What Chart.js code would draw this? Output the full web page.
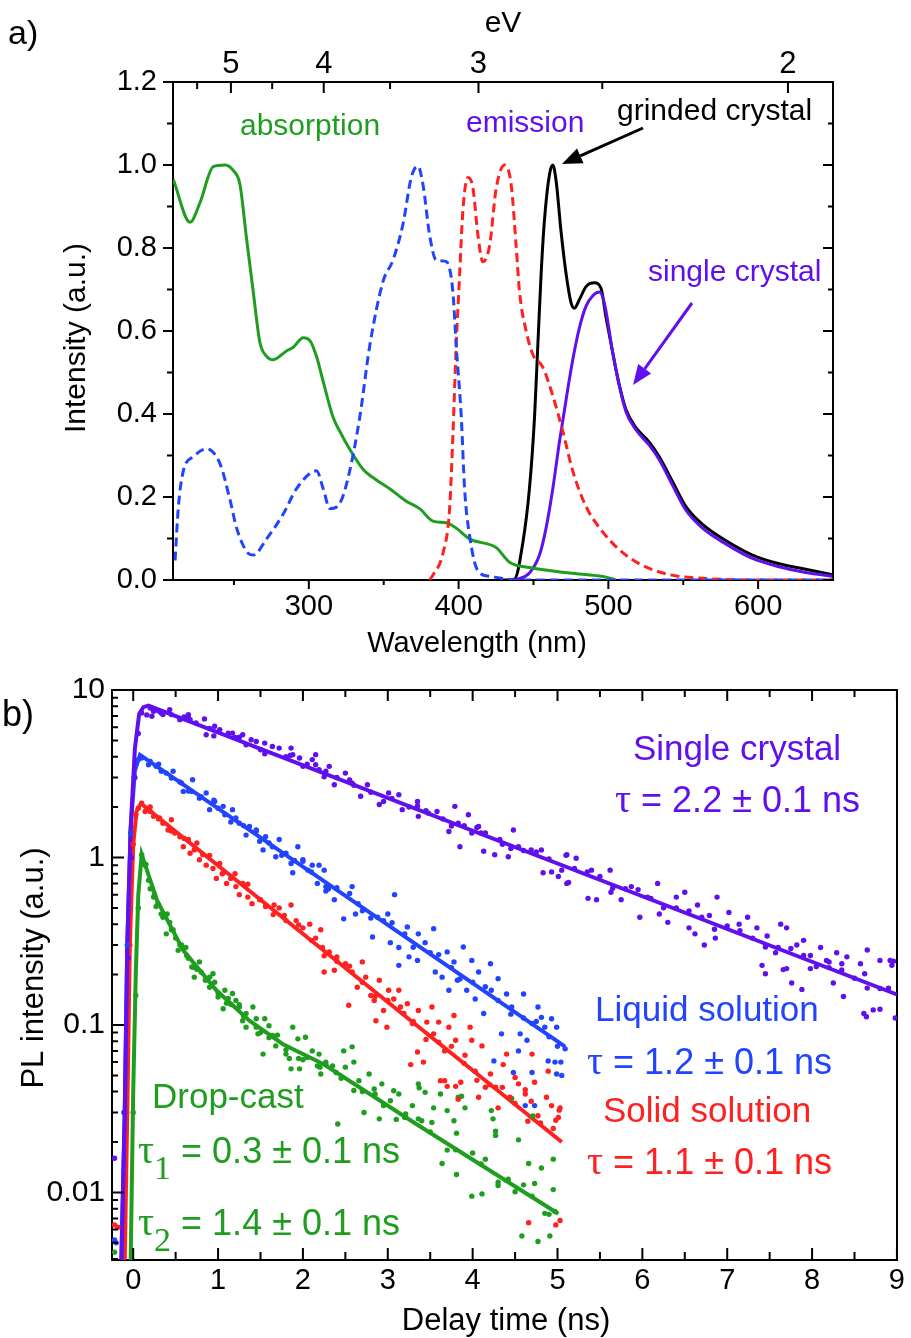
<!DOCTYPE html>
<html>
<head>
<title>Spectra and PL decay</title>
<script src="https://cdn.jsdelivr.net/npm/chart.js"></script>
<style>
body{margin:0;background:#fff;}
#wrap{position:relative;width:911px;height:1338px;}
canvas{position:absolute;left:0;}
</style>
</head>
<body>
<div id="wrap">
<canvas id="specChart" width="911" height="660" style="top:0"></canvas>
<canvas id="decayChart" width="911" height="678" style="top:660px"></canvas>
</div>
<script>
const SANS='"Liberation Sans", Arial, sans-serif';
const SERIF='"Liberation Serif", "Times New Roman", serif';
const GREEN='#1f9d1f', PURPLE='#6010ee', BLUE='#2244ff', RED='#ff2020';

// ---- panel a: spectra (wavelength nm, normalised intensity)
const absWl =[209.5,220.7,227.3,236.2,244,249.5,254,258.4,262.9,267.3,271.8,276.2,285.1,289.6,296.2,300.7,305.1,309.6,316.2,320.7,327.3,336.2,345.1,354,365.1,374,382.9,391.8,398.4,407.3,425.1,434,447.3,474,498.4,505];
const absVal=[0.965,0.862,0.909,0.996,1.0,0.987,0.953,0.823,0.694,0.573,0.539,0.531,0.552,0.561,0.584,0.577,0.539,0.478,0.392,0.358,0.315,0.267,0.241,0.220,0.190,0.172,0.142,0.138,0.125,0.099,0.078,0.043,0.030,0.017,0.0069,0];

const excWl =[210.7,212.9,216.2,222.9,231.8,240.7,247.3,251.8,258.4,262.9,271.8,282.9,291.8,305.1,309.6,314,320.7,327.3,334,340.7,349.6,356.2,362.9,368.4,372.9,376.2,380.7,385,391.8,396.2,398.4,401.8,404,407.3,412.9,420.7,440,650];
const excVal=[0.047,0.177,0.263,0.297,0.316,0.280,0.194,0.125,0.069,0.060,0.099,0.159,0.220,0.263,0.220,0.172,0.185,0.263,0.392,0.565,0.720,0.771,0.858,0.970,0.997,0.953,0.830,0.771,0.767,0.694,0.565,0.392,0.220,0.108,0.022,0.009,0,0];

const solWl =[380.7,382.9,389.6,394,396.2,398.4,400.7,402.9,406.2,409.6,412.9,416.2,420.7,425.1,430.7,435.1,438.4,440.7,445.1,449.6,456.2,462.9,469.6,476.2,485.1,496.2,507.3,520.7,540.7,562.9,600,650];
const solVal=[0,0.012,0.065,0.172,0.349,0.565,0.737,0.892,0.970,0.944,0.831,0.767,0.806,0.944,1.0,0.953,0.806,0.694,0.600,0.543,0.513,0.444,0.358,0.263,0.177,0.116,0.073,0.039,0.013,0.004,0,0];

const grWl =[429.6,437.3,442.9,447.3,450.7,452.9,455.1,457.3,460.7,462.9,465.1,468.4,471.8,475.1,477.3,480.7,485.1,490.7,495.1,498.4,502.9,507.3,511.8,518.4,527.3,534,542.9,551.8,562.9,578.4,596.2,614,631.8,649.6];
const grVal=[0,0.002,0.090,0.220,0.392,0.565,0.737,0.866,0.978,1.0,0.962,0.840,0.737,0.668,0.655,0.676,0.707,0.716,0.703,0.634,0.548,0.470,0.410,0.367,0.332,0.297,0.237,0.177,0.134,0.095,0.060,0.039,0.026,0.013];

const scWl =[438.4,447.3,454,458.4,462.9,467.3,471.8,476.2,480.7,485.1,489.6,494,497.3,502.9,507.3,511.8,518.4,527.3,534,542.9,551.8,562.9,578.4,596.2,614,631.8,649.6];
const scVal=[0,0.017,0.060,0.125,0.220,0.332,0.435,0.530,0.608,0.660,0.685,0.694,0.668,0.548,0.468,0.405,0.362,0.325,0.290,0.228,0.168,0.125,0.087,0.052,0.032,0.018,0.009];

const wlTicks=[250,300,350,400,450,500,550,600];
const evTicks=[5.5,5,4.5,4,3.5,3,2.5,2];
const intTicks=[0,0.1,0.2,0.3,0.4,0.5,0.6,0.7,0.8,0.9,1.0,1.1,1.2];

// ---- panel b: PL decay (delay ns, PL intensity)
const crystalDots=[[0.16,7.1],[0.2,7.8],[0.22,6.97],[0.24,7.47],[0.33,7.3],[0.43,7.64],[0.45,7.13],[0.55,6.65],[0.65,7.13],[0.67,6.65],[0.74,6.35],[0.84,6.72],[0.86,5.41],[0.96,6.07],[1.02,5.8],[1.12,5.53],[1.17,5.53],[1.29,5.41],[1.33,4.71],[1.39,5.05],[1.45,4.93],[1.55,4.82],[1.64,4.6],[1.72,4.5],[1.86,4.5],[1.88,4.11],[1.96,3.93],[2.0,3.5],[2.11,3.84],[2.15,4.11],[2.15,3.58],[2.27,3.27],
[2.19,3.34],[2.31,3.5],[2.37,2.72],[2.5,3.19],[2.58,2.78],[2.68,2.32],[2.76,2.72],[2.9,2.07],[3.01,2.43],[3.13,2.37],[3.17,1.93],[3.35,2.16],[3.36,1.76],[3.48,1.84],[3.58,1.88],[3.72,1.43],[3.79,2.02],[3.83,1.6],[3.85,1.16],[3.95,1.8],[3.99,1.4],[4.07,1.53],[4.13,1.09],[4.15,1.4],[4.26,1.04],[4.32,1.28],[4.42,1.01],[4.48,1.46],[4.54,1.16],[4.69,1.11],[4.81,1.11],[4.83,0.81],[4.93,0.82],[5.01,0.77],[5.11,1.04],[5.11,0.70],
[5.1,1.03],[5.13,0.71],[5.22,0.99],[5.36,0.57],[5.4,0.84],[5.46,0.56],[5.62,0.84],[5.63,0.62],[5.75,0.56],[5.87,0.67],[5.97,0.44],[6.06,0.58],[6.18,0.70],[6.2,0.46],[6.3,0.41],[6.4,0.58],[6.5,0.62],[6.55,0.38],[6.62,0.35],[6.65,0.52],[6.73,0.30],[6.79,0.45],[6.86,0.33],[6.88,0.58],[7.02,0.47],[7.14,0.40],[7.24,0.44],[7.35,0.38],[7.41,0.227],[7.45,0.202],[7.47,0.34],[7.57,0.27],[7.63,0.40],[7.66,0.214],[7.7,0.38],[7.7,0.217],[7.76,0.178],[7.82,0.30],[7.88,0.163],[7.9,0.32],[7.98,0.26],[7.98,0.217],[8.1,0.29],[8.17,0.243],[8.2,0.238],[8.25,0.178],[8.29,0.27],[8.35,0.232],[8.37,0.148],[8.41,0.255],[8.57,0.232],[8.61,0.117],[8.62,0.202],[8.64,0.112],[8.65,0.28],[8.72,0.123],[8.8,0.243],[8.8,0.124],[8.92,0.243],[8.94,0.227],[8.96,0.24],[8.98,0.11],
[0.3,7.5],[0.6,6.9],[0.9,5.9],[1.2,5.2],[1.5,4.4],[1.8,4.0],[2.05,3.6],[2.4,3.0],[2.6,2.7],[2.8,2.45],[3.05,2.25],[3.25,2.0],[3.45,1.9],[3.65,1.7],[3.9,1.55],[4.1,1.4],[4.35,1.2],[4.6,1.1],[4.9,0.98],[5.2,0.86],[5.5,0.77],[5.8,0.65],[6.1,0.57],[6.4,0.50],[6.7,0.44],[7.0,0.39],[7.3,0.33],[7.6,0.29],[7.9,0.26],[8.2,0.22],[8.5,0.19],[8.8,0.165],
[0.35,7.14],[0.65,6.84],[0.95,5.32],[1.25,5.22],[1.55,4.16],[1.85,4.07],[2.25,3.03],[2.55,2.9],[2.95,2.16],[3.35,2.03],[3.75,1.54],[4.05,1.51],[4.45,1.13],[4.75,1.08],[5.05,0.84],[5.35,0.82],[5.65,0.656],[5.95,0.643],[6.25,0.501],[6.55,0.48],[6.85,0.373],[7.15,0.366],[7.45,0.292],[7.75,0.286],[8.05,0.223],[8.35,0.213],[8.65,0.166],[8.9,0.166],
[-0.22,0.016],[-0.1,0.03],[-0.06,0.25],[-0.02,1.0],[0.02,3.0],[0.06,5.5],[0.1,7.3]];

const liquidDots=[[0.06,3.84],[0.1,3.93],[0.18,3.58],[0.27,3.5],[0.33,3.27],[0.39,3.19],[0.47,3.27],[0.45,2.98],[0.57,2.78],[0.59,2.48],[0.70,2.91],[0.69,2.48],[0.78,2.26],[0.86,2.43],[0.9,1.93],[0.96,2.16],[1.06,2.02],[1.08,1.8],[1.17,1.93],[1.21,1.72],[1.25,1.6],[1.33,1.36],[1.37,1.53],[1.45,1.46],[1.49,1.25],[1.56,1.33],[1.53,1.11],[1.64,1.16],[1.68,1.01],[1.72,1.28],[1.8,1.06],[1.86,0.92],[1.88,0.81],[1.94,1.16],[2.0,0.97],[2.06,0.84],[2.11,0.90],[2.17,0.70],[2.19,0.90],[2.25,0.84],[2.27,0.63],
[2.27,0.67],[2.37,0.56],[2.48,0.43],[2.58,0.67],[2.62,0.46],[2.7,0.48],[2.82,0.335],[2.88,0.44],[3.0,0.46],[3.03,0.31],[3.08,0.60],[3.13,0.29],[3.13,0.227],[3.23,0.385],[3.25,0.255],[3.35,0.243],[3.36,0.35],[3.44,0.31],[3.54,0.376],[3.56,0.207],[3.64,0.193],[3.7,0.273],[3.72,0.161],[3.78,0.238],[3.82,0.185],[3.89,0.292],[3.93,0.161],[3.99,0.243],[4.03,0.143],[4.07,0.207],[4.13,0.117],[4.21,0.232],[4.22,0.161],[4.3,0.189],[4.34,0.0885],[4.4,0.153],[4.46,0.128],[4.56,0.0885],[4.6,0.153],[4.64,0.081],[4.7,0.102],[4.77,0.128],[4.81,0.111],[4.85,0.097],[4.93,0.109],[4.99,0.097],[4.89,0.061],[4.97,0.060],[4.99,0.051],[5.09,0.072],[4.54,0.070],[4.7,0.052],[4.48,0.052],[4.25,0.061],[4.73,0.033],[4.62,0.033],[5.04,0.06],[5.05,0.05],
[0.2,3.74],[0.55,2.82],[0.8,2.31],[1.0,1.97],[1.3,1.55],[1.6,1.22],[1.9,0.96],[2.1,0.82],[2.4,0.66],[2.65,0.53],[2.95,0.42],[3.2,0.35],[3.5,0.27],[3.75,0.22],[4.0,0.18],[4.3,0.14],[4.6,0.11],[4.9,0.085],
[0.3,3.61],[0.65,2.49],[0.95,2.2],[1.15,1.63],[1.45,1.44],[1.75,1.03],[2.0,0.95],[2.3,0.649],[2.55,0.61],[2.8,0.435],[3.05,0.408],[3.3,0.291],[3.6,0.263],[3.85,0.188],[4.15,0.169],[4.45,0.116],[4.75,0.105],[5.0,0.0746],
[-0.22,0.0052],[-0.2,0.005],[-0.11,0.03],[-0.07,0.3],[-0.03,1.4],[0.01,3.0]];

const solidDots=[[0.06,1.97],[0.1,2.11],[0.14,1.88],[0.2,1.88],[0.24,1.76],[0.31,1.72],[0.35,1.6],[0.41,1.46],[0.45,1.68],[0.49,1.4],[0.55,1.33],[0.59,1.16],[0.65,1.28],[0.67,1.06],[0.72,1.11],[0.78,0.97],[0.82,1.04],[0.86,0.90],[0.94,0.86],[0.98,0.75],[1.02,0.92],[1.06,0.81],[1.1,0.70],[1.15,0.75],[1.21,0.67],[1.25,0.60],[1.29,0.70],[1.35,0.58],[1.4,0.53],[1.49,0.56],[1.56,0.51],[1.66,0.52],[1.72,0.50],[1.86,0.52],[1.78,0.45],[1.92,0.42],[2.0,0.38],[2.08,0.40],[2.15,0.33],
[2.21,0.37],[2.23,0.29],[2.25,0.207],[2.31,0.273],[2.37,0.212],[2.4,0.255],[2.5,0.232],[2.54,0.131],[2.58,0.207],[2.64,0.168],[2.7,0.238],[2.74,0.193],[2.8,0.15],[2.84,0.14],[2.86,0.106],[2.9,0.185],[2.95,0.122],[2.99,0.097],[3.01,0.161],[3.07,0.143],[3.13,0.161],[3.19,0.117],[3.23,0.134],[3.27,0.058],[3.29,0.102],[3.35,0.069],[3.36,0.122],[3.42,0.060],[3.46,0.104],[3.52,0.128],[3.54,0.0885],[3.6,0.104],[3.62,0.0465],[3.67,0.0465],[3.67,0.070],[3.72,0.097],[3.78,0.114],[3.8,0.081],[3.83,0.036],[3.86,0.0455],[3.91,0.066],[3.97,0.097],[3.99,0.081],[4.03,0.053],[4.07,0.037],[4.11,0.075],[4.15,0.0425],[4.21,0.051],[4.27,0.0425],[4.3,0.032],[4.36,0.058],[4.4,0.067],[4.44,0.037],[4.5,0.0486],[4.54,0.0445],[4.62,0.0387],[4.7,0.067],[4.73,0.0455],[4.77,0.0287],[4.87,0.037],[4.89,0.053],[4.93,0.033],[5.01,0.028],[5.03,0.032],[5.02,0.031],[4.98,0.027],[5.03,0.0068],[4.98,0.0064],[4.66,0.0066],[4.62,0.041],[4.69,0.035],[3.7,0.043],[3.8,0.043],
[0.3,1.7],[0.6,1.3],[0.9,1.03],[1.2,0.8],[1.5,0.56],[1.8,0.42],[2.1,0.32],[2.4,0.24],[2.7,0.18],[3.0,0.14],[3.3,0.105],[3.6,0.079],[3.9,0.059],[4.2,0.044],[4.5,0.034],[4.8,0.026],
[0.2,2.0],[0.45,1.44],[0.75,1.22],[1.05,0.80],[1.35,0.693],[1.65,0.456],[1.95,0.395],[2.25,0.259],[2.55,0.2246],[2.85,0.148],[3.15,0.128],[3.45,0.082],[3.75,0.0745],[4.05,0.0467],[4.35,0.0424],[4.65,0.0266],[4.95,0.0241],
[-0.22,0.0064],[-0.18,0.0062],[-0.08,0.03],[-0.04,0.3],[0.0,1.2],[0.03,1.8]];

const dropDots=[[0.1,1.04],[0.14,0.90],[0.18,0.73],[0.2,0.65],[0.24,0.58],[0.27,0.51],[0.29,0.53],[0.33,0.46],[0.39,0.35],[0.43,0.41],[0.47,0.37],[0.53,0.279],[0.57,0.30],[0.63,0.26],[0.69,0.222],[0.72,0.193],[0.78,0.238],[0.8,0.207],[0.86,0.189],[0.9,0.168],[0.94,0.202],[0.96,0.18],[1.0,0.147],[1.06,0.125],[1.08,0.161],[1.12,0.144],[1.17,0.154],[1.21,0.14],[1.25,0.128],[1.29,0.106],[1.33,0.117],[1.33,0.097],[1.41,0.128],[1.45,0.109],[1.47,0.0885],[1.53,0.067],[1.55,0.109],[1.6,0.099],[1.64,0.0865],[1.68,0.075],[1.8,0.067],[1.84,0.063],[1.86,0.0547],[1.88,0.097],[1.94,0.0826],[1.96,0.0547],[2.03,0.0845],[2.05,0.064],[2.11,0.070],[2.17,0.057],[2.21,0.051],[2.27,0.058],
[2.19,0.067],[2.27,0.06],[2.39,0.052],[2.41,0.0256],[2.48,0.070],[2.5,0.056],[2.58,0.074],[2.6,0.06],[2.66,0.0465],[2.72,0.030],[2.78,0.051],[2.84,0.0415],[2.9,0.0275],[2.93,0.0445],[3.03,0.0353],[3.07,0.0405],[3.13,0.0387],[3.21,0.0294],[3.29,0.033],[3.36,0.0445],[3.36,0.0275],[3.44,0.0396],[3.54,0.032],[3.62,0.0387],[3.7,0.0308],[3.78,0.0268],[3.83,0.037],[3.91,0.032],[4.22,0.0308],[4.24,0.0275],
[3.37,0.0422],[3.52,0.0262],[3.64,0.0149],[3.81,0.0128],[3.81,0.0226],[3.87,0.0375],[3.99,0.0095],[4.11,0.0098],[4.15,0.0158],[4.27,0.0219],[4.27,0.0232],[4.3,0.011],[4.42,0.012],[4.46,0.0364],[4.5,0.0101],[4.54,0.0206],[4.58,0.0055],[4.66,0.0149],[4.71,0.0286],[4.73,0.0113],[4.77,0.0051],[4.81,0.014],[4.85,0.0075],[4.91,0.0055],[4.95,0.0104],[4.97,0.0077],[4.95,0.0158],
[0.25,0.6],[0.35,0.44],[0.45,0.37],[0.55,0.3],[0.65,0.25],[0.75,0.215],[0.85,0.185],[1.0,0.155],[1.15,0.133],[1.3,0.113],[1.45,0.097],[1.6,0.084],[1.8,0.071],[2.0,0.062],[2.2,0.056],[2.45,0.048],[2.7,0.04],[2.95,0.033],[3.2,0.028],[3.5,0.023],[3.8,0.018],[4.1,0.0148],[4.4,0.0118],[4.7,0.0095],
[0.15,0.91],[0.22,0.65],[0.4,0.46],[0.5,0.33],[0.62,0.29],[0.72,0.22],[0.9,0.193],[1.1,0.135],[1.25,0.132],[1.5,0.09],[1.7,0.087],[1.95,0.063],[2.35,0.057],[2.6,0.0406],[2.85,0.0387],[3.1,0.0273],[3.4,0.0268],[3.7,0.0179],[4.0,0.0172],[4.3,0.0115],[4.6,0.0111],[4.9,0.0074],
[-0.22,0.0044],[0.0,0.03],[0.03,0.15],[0.06,0.5]];

// fitted curves
const crystalFit=[[-0.14,0.0039],[-0.1,0.03],[-0.07,0.3],[-0.03,1.5],[0.02,4.5],[0.07,7.2],[0.12,7.9],[0.18,8.07],[9.0,0.152]];
const liquidFit=[[-0.14,0.0039],[-0.1,0.03],[-0.07,0.3],[-0.03,1.5],[0.02,3.3],[0.08,4.1],[5.09,0.0743]];
const solidFit=[[-0.1,0.0039],[-0.07,0.03],[-0.04,0.3],[0.0,1.2],[0.04,1.9],[0.09,2.1],[5.05,0.020]];
const dropFit=[[-0.03,0.0039],[0.0,0.04],[0.03,0.2],[0.06,0.6],[0.1,1.04],[0.28,0.556],[0.59,0.279],[0.98,0.161],[1.37,0.106],[1.76,0.077],[2.25,0.058],[3.33,0.0257],[5.01,0.00746]];

const delayTicks=[0,0.5,1,1.5,2,2.5,3,3.5,4,4.5,5,5.5,6,6.5,7,7.5,8,8.5,9];
const decadeTicks=[0.004,0.005,0.006,0.007,0.008,0.009,0.01,0.02,0.03,0.04,0.05,0.06,0.07,0.08,0.09,0.1,0.2,0.3,0.4,0.5,0.6,0.7,0.8,0.9,1,2,3,4,5,6,7,8,9,10];

Chart.defaults.font.family=SANS;
Chart.defaults.color='#000';

const xy=(xs,ys)=>xs.map((x,i)=>({x:x,y:ys[i]}));
const pts=arr=>arr.map(p=>({x:p[0],y:p[1]}));

// tick marks: different lengths for major/minor and inward/outward per side
function tickMarks(chart,id,edge,inward,values,isMajor,majLen,minLen){
    const s=chart.scales[id], a=chart.chartArea, c=chart.ctx;
    c.save(); c.strokeStyle='#000'; c.lineWidth=2; c.setLineDash([]);
    c.beginPath();
    values.forEach(v=>{
        const len=isMajor(v)?majLen:minLen;
        if(edge==='bottom'||edge==='top'){
            const x=s.getPixelForValue(v);
            const y0=edge==='bottom'?a.bottom:a.top;
            const dir=(edge==='bottom'?1:-1)*(inward?-1:1);
            c.moveTo(x,y0); c.lineTo(x,y0+dir*len);
        }else{
            const y=s.getPixelForValue(v);
            const x0=edge==='left'?a.left:a.right;
            const dir=(edge==='left'?-1:1)*(inward?-1:1);
            c.moveTo(x0,y); c.lineTo(x0+dir*len,y);
        }
    });
    c.stroke();
    c.restore();
}

function txt(c,s,x,y,font,color,align){
    c.save(); c.font=font; c.fillStyle=color||'#000'; c.textAlign=align||'left'; c.textBaseline='alphabetic';
    c.fillText(s,x,y); c.restore();
}
function vtxt(c,s,x,y,font){
    c.save(); c.translate(x,y); c.rotate(-Math.PI/2);
    c.font=font; c.fillStyle='#000'; c.textAlign='center'; c.textBaseline='middle';
    c.fillText(s,0,0); c.restore();
}
function rich(c,parts,x,y,color){
    c.save(); c.fillStyle=color; c.textBaseline='alphabetic'; c.textAlign='left';
    let cx=x;
    parts.forEach(p=>{c.font=p.f; c.fillText(p.t,cx,y+(p.dy||0)); cx+=c.measureText(p.t).width;});
    c.restore();
}
function arrow(c,x1,y1,x2,y2,color){
    const ang=Math.atan2(y2-y1,x2-x1), L=20, W=8;
    const bx=x2-L*Math.cos(ang), by=y2-L*Math.sin(ang);
    c.save(); c.strokeStyle=color; c.fillStyle=color; c.lineWidth=3; c.setLineDash([]);
    c.beginPath(); c.moveTo(x1,y1); c.lineTo(bx,by); c.stroke();
    c.beginPath(); c.moveTo(x2,y2);
    c.lineTo(bx+W*Math.sin(ang),by-W*Math.cos(ang));
    c.lineTo(bx-W*Math.sin(ang),by+W*Math.cos(ang));
    c.closePath(); c.fill(); c.restore();
}

const evMajor=v=>Math.abs(1239.84/v-Math.round(1239.84/v))<0.01;
const tenth2=v=>Math.round(v*10)%2===0;

const specDecor={
    id:'specDecor',
    afterDraw(chart){
        const c=chart.ctx;
        tickMarks(chart,'x','bottom',false,wlTicks,v=>v%100===0,9,5);
        tickMarks(chart,'xe','top',true,evTicks.map(e=>1239.84/e),evMajor,11,7);
        tickMarks(chart,'y','left',false,intTicks,tenth2,10,6);
        tickMarks(chart,'y','right',true,intTicks,tenth2,10,5);
        txt(c,'a)',8,44,'34px '+SANS);
        txt(c,'eV',503,32,'30px '+SANS,'#000','center');
        txt(c,'Wavelength (nm)',477,652,'29px '+SANS,'#000','center');
        vtxt(c,'Intensity (a.u.)',77,338,'30px '+SANS);
        txt(c,'absorption',240,135,'30px '+SANS,GREEN);
        txt(c,'emission',466,132,'30px '+SANS,PURPLE);
        txt(c,'grinded crystal',617,120,'30px '+SANS,'#000');
        txt(c,'single crystal',648,281,'30px '+SANS,PURPLE);
        arrow(c,643,128,562,164,'#000');
        arrow(c,692,303,633,385,PURPLE);
    }
};

const line=(data,color,dash)=>({data:data,showLine:true,pointRadius:0,borderColor:color,borderWidth:3,borderDash:dash||[],fill:false,cubicInterpolationMode:'monotone'});
const noGrid={display:false,drawTicks:false};
const frame={color:'#000',width:2};

new Chart(document.getElementById('specChart'),{
    type:'scatter',
    data:{datasets:[
        line(xy(excWl,excVal),BLUE,[9,5]),
        line(xy(solWl,solVal),RED,[9,5]),
        line(xy(absWl,absVal),GREEN),
        line(xy(scWl,scVal),PURPLE),
        line(xy(grWl,grVal),'#000')
    ]},
    options:{
        responsive:false,animation:false,devicePixelRatio:1,
        layout:{padding:0},
        plugins:{legend:{display:false},tooltip:{enabled:false}},
        scales:{
            x:{type:'linear',position:'bottom',min:209.3,max:650,
                afterBuildTicks:s=>{s.ticks=wlTicks.map(v=>({value:v}));},
                afterFit:s=>{s.height=80;},
                grid:noGrid,border:frame,
                ticks:{font:{size:29,lineHeight:1},padding:12,maxRotation:0,autoSkip:false,callback:v=>v%100===0?String(v):''}},
            xe:{type:'linear',position:'top',min:209.3,max:650,
                afterBuildTicks:s=>{s.ticks=evTicks.map(e=>({value:1239.84/e}));},
                afterFit:s=>{s.height=82;},
                grid:noGrid,border:frame,
                ticks:{font:{size:31,lineHeight:1},padding:2,maxRotation:0,autoSkip:false,callback:v=>evMajor(v)?String(Math.round(1239.84/v)):''}},
            y:{type:'linear',position:'left',min:0,max:1.2,
                afterBuildTicks:s=>{s.ticks=intTicks.map(v=>({value:v}));},
                afterFit:s=>{s.width=173;},
                grid:noGrid,border:frame,
                ticks:{font:{size:29,lineHeight:1},padding:16,autoSkip:false,callback:v=>tenth2(v)?v.toFixed(1):''}},
            yr:{type:'linear',position:'right',min:0,max:1.2,
                afterFit:s=>{s.width=78;},
                grid:noGrid,border:frame,ticks:{display:false}}
        }
    },
    plugins:[specDecor]
});

// ---- panel b
const isDecade=v=>Math.abs(Math.log10(v)-Math.round(Math.log10(v)))<1e-6;

const decayDecor={
    id:'decayDecor',
    afterDraw(chart){
        const c=chart.ctx;
        tickMarks(chart,'x','bottom',true,delayTicks,v=>Number.isInteger(v),12,8);
        tickMarks(chart,'x','top',true,delayTicks,v=>Number.isInteger(v),11,7);
        tickMarks(chart,'y','left',true,decadeTicks,isDecade,12,6);
        txt(c,'b)',2,66,'36px '+SANS);
        txt(c,'Delay time (ns)',506,670,'31px '+SANS,'#000','center');
        vtxt(c,'PL intensity (a.u.)',34,308,'31px '+SANS);
        const S='36px '+SANS, T='40px '+SERIF, SUB='34px '+SERIF;
        txt(c,'Single crystal',633,100,'35px '+SANS,PURPLE);
        rich(c,[{t:'τ',f:T},{t:' = 2.2 ± 0.1 ns',f:S}],615,152,PURPLE);
        txt(c,'Liquid solution',595,361,'35px '+SANS,BLUE);
        rich(c,[{t:'τ',f:T},{t:' = 1.2 ± 0.1 ns',f:S}],587,414,BLUE);
        txt(c,'Solid solution',603,462,'35px '+SANS,RED);
        rich(c,[{t:'τ',f:T},{t:' = 1.1 ± 0.1 ns',f:S}],587,514,RED);
        txt(c,'Drop-cast',152,448,'35px '+SANS,GREEN);
        rich(c,[{t:'τ',f:T},{t:'1',f:SUB,dy:16},{t:' = 0.3 ± 0.1 ns',f:S}],138,503,GREEN);
        rich(c,[{t:'τ',f:T},{t:'2',f:SUB,dy:16},{t:' = 1.4 ± 0.1 ns',f:S}],138,575,GREEN);
    }
};

const dots=(arr,color)=>({data:pts(arr),showLine:false,pointRadius:2.7,pointBorderWidth:0,pointBackgroundColor:color,borderColor:color});
const fit=(arr,color)=>({data:pts(arr),showLine:true,pointRadius:0,borderColor:color,borderWidth:4,fill:false});

new Chart(document.getElementById('decayChart'),{
    type:'scatter',
    data:{datasets:[
        dots(crystalDots,PURPLE),dots(liquidDots,BLUE),dots(solidDots,RED),dots(dropDots,GREEN),
        fit(crystalFit,PURPLE),fit(liquidFit,BLUE),fit(solidFit,RED),fit(dropFit,GREEN)
    ]},
    options:{
        responsive:false,animation:false,devicePixelRatio:1,
        layout:{padding:0},
        plugins:{legend:{display:false},tooltip:{enabled:false}},
        scales:{
            x:{type:'linear',position:'bottom',min:-0.25,max:9,
                afterBuildTicks:s=>{s.ticks=delayTicks.map(v=>({value:v}));},
                afterFit:s=>{s.height=78;},
                grid:noGrid,border:frame,
                ticks:{font:{size:29,lineHeight:1},padding:6,maxRotation:0,autoSkip:false,callback:v=>Number.isInteger(v)?String(v):''}},
            xt:{type:'linear',position:'top',min:-0.25,max:9,
                afterFit:s=>{s.height=30;},
                grid:noGrid,border:frame,ticks:{display:false}},
            y:{type:'logarithmic',position:'left',min:0.00395,max:10,
                afterBuildTicks:s=>{s.ticks=decadeTicks.map(v=>({value:v}));},
                afterFit:s=>{s.width=112;},
                grid:noGrid,border:frame,
                ticks:{font:{size:30,lineHeight:1},padding:7,autoSkip:false,callback:v=>isDecade(v)?String(+v.toPrecision(1)):''}},
            yr:{type:'logarithmic',position:'right',min:0.00395,max:10,
                afterFit:s=>{s.width=11;},
                grid:noGrid,border:frame,ticks:{display:false}}
        }
    },
    plugins:[decayDecor]
});
</script>
</body>
</html>
